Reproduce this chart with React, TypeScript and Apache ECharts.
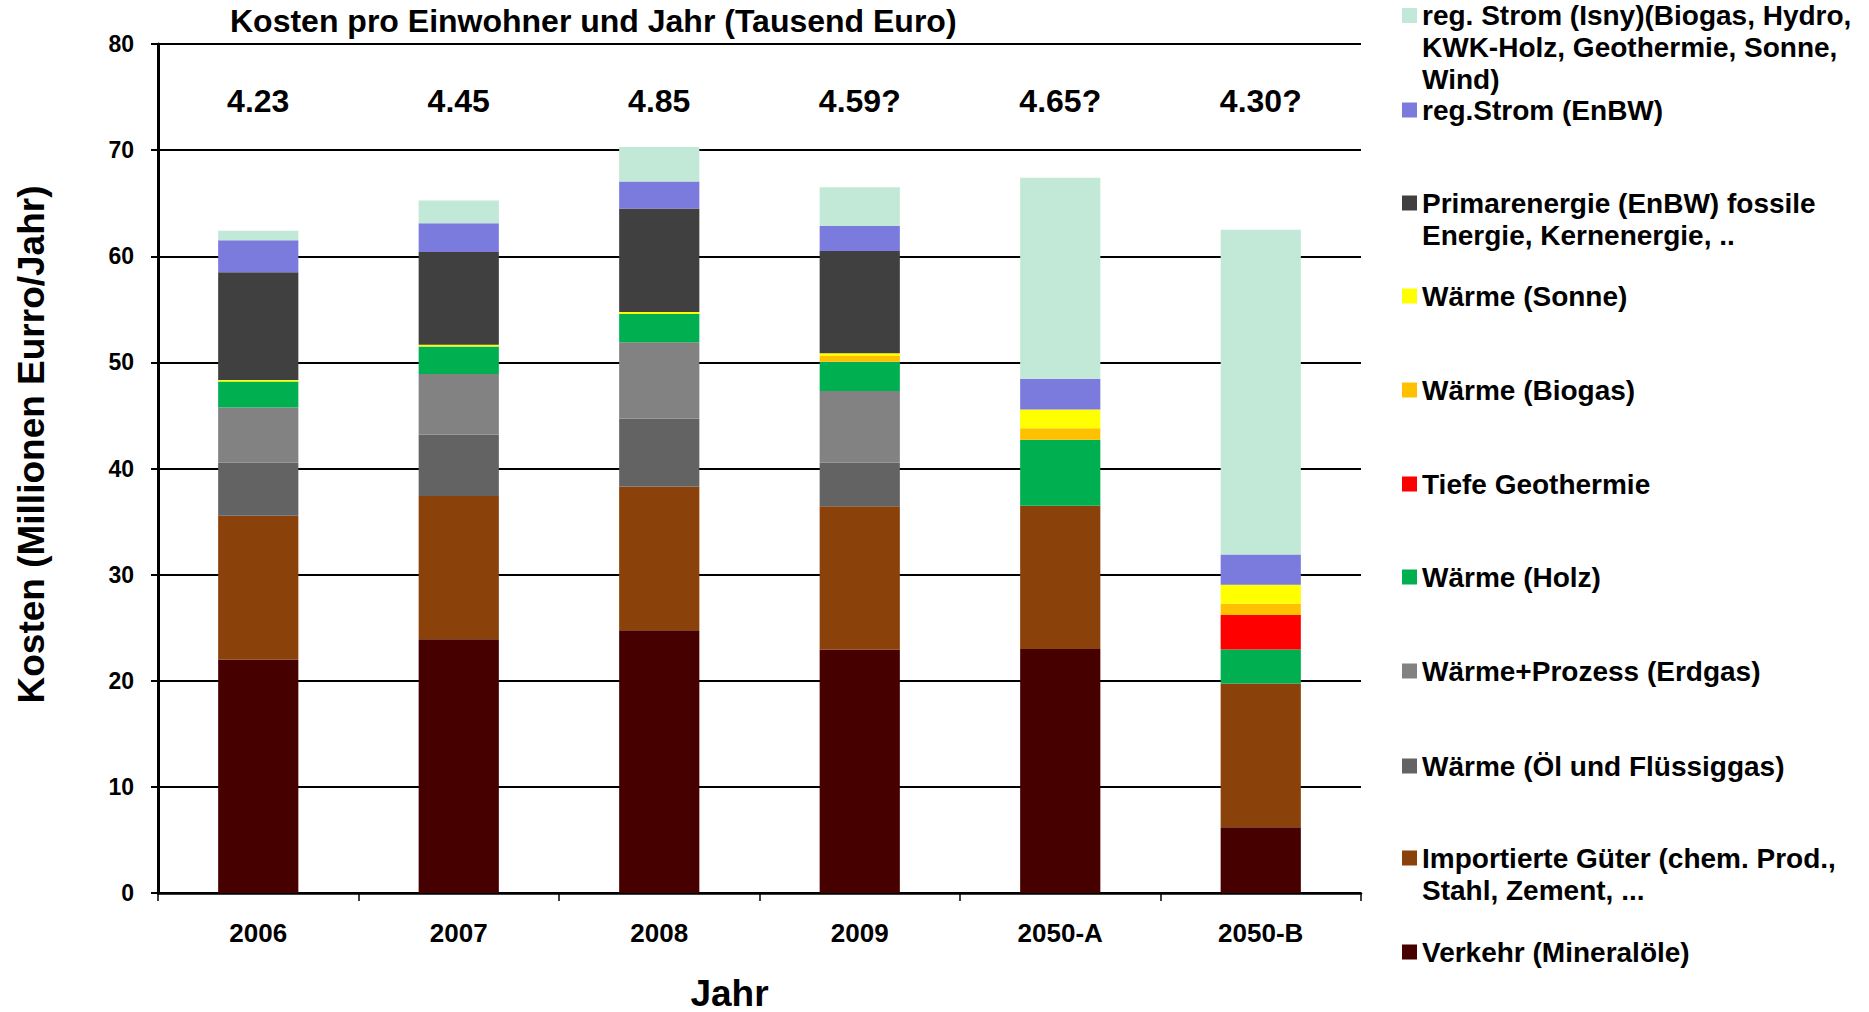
import React, { useEffect, useRef } from "react";
import * as echarts from "echarts";

const categories = ["2006", "2007", "2008", "2009", "2050-A", "2050-B"];
const perCapitaLabels = ["4.23", "4.45", "4.85", "4.59?", "4.65?", "4.30?"];
const perCapitaLabelLevel = 74.6;

const verkehr = [22.0, 23.9, 24.75, 22.95, 23.0, 6.2];
const importGueter = [13.55, 13.5, 13.55, 13.5, 13.5, 13.55];
const waermeOel = [5.0, 5.8, 6.4, 4.1, 0, 0];
const waermeErdgas = [5.2, 5.7, 7.2, 6.75, 0, 0];
const waermeHolz = [2.45, 2.6, 2.65, 2.75, 6.2, 3.2];
const tiefeGeothermie = [0, 0, 0, 0, 0, 3.25];
const waermeBiogas = [0, 0, 0, 0.55, 1.1, 1.05];
const waermeSonne = [0.15, 0.15, 0.2, 0.25, 1.75, 1.8];
const primarenergie = [10.15, 8.75, 9.75, 9.65, 0, 0];
const stromEnBW = [3.0, 2.7, 2.55, 2.35, 2.9, 2.85];
const stromIsny = [0.9, 2.15, 3.25, 3.65, 18.95, 30.6];

const yMin = 0;
const yMax = 80;
const yInterval = 10;

const FONT = "'Liberation Sans', Arial, Helvetica, sans-serif";

type Def = { name: string; lines: string[]; color: string; data: number[]; legendY: number };

// bottom-to-top stacking order
const defs: Def[] = [
  { name: "Verkehr (Mineralöle)", lines: ["Verkehr (Mineralöle)"], color: "#470000", data: verkehr, legendY: 952 },
  { name: "Importierte Güter (chem. Prod., Stahl, Zement, ...", lines: ["Importierte Güter (chem. Prod.,", "Stahl, Zement, ..."], color: "#8A410A", data: importGueter, legendY: 858 },
  { name: "Wärme (Öl und Flüssiggas)", lines: ["Wärme (Öl und Flüssiggas)"], color: "#636363", data: waermeOel, legendY: 766 },
  { name: "Wärme+Prozess (Erdgas)", lines: ["Wärme+Prozess (Erdgas)"], color: "#828282", data: waermeErdgas, legendY: 671 },
  { name: "Wärme (Holz)", lines: ["Wärme (Holz)"], color: "#00AF50", data: waermeHolz, legendY: 577 },
  { name: "Tiefe Geothermie", lines: ["Tiefe Geothermie"], color: "#FF0000", data: tiefeGeothermie, legendY: 484 },
  { name: "Wärme (Biogas)", lines: ["Wärme (Biogas)"], color: "#FFC000", data: waermeBiogas, legendY: 390 },
  { name: "Wärme (Sonne)", lines: ["Wärme (Sonne)"], color: "#FFFF00", data: waermeSonne, legendY: 296 },
  { name: "Primarenergie (EnBW) fossile Energie, Kernenergie, ..", lines: ["Primarenergie (EnBW) fossile", "Energie, Kernenergie, .."], color: "#404040", data: primarenergie, legendY: 203 },
  { name: "reg.Strom (EnBW)", lines: ["reg.Strom (EnBW)"], color: "#7B7BDD", data: stromEnBW, legendY: 110 },
  { name: "reg. Strom (Isny)(Biogas, Hydro, KWK-Holz, Geothermie, Sonne, Wind)", lines: ["reg. Strom (Isny)(Biogas, Hydro,", "KWK-Holz, Geothermie, Sonne,", "Wind)"], color: "#C2E8D7", data: stromIsny, legendY: 15.5 },
];

const LEGEND_LH = 32;

export default function App() {
  const ref = useRef<HTMLDivElement>(null);
  useEffect(() => {
    document.body.style.margin = "0";
    if (!ref.current) return;
    const chart = echarts.init(ref.current, undefined, { renderer: "svg" });

    const legends = defs.map((d) => {
      const n = d.lines.length;
      const blockH = Math.max((2 * n - 1) * LEGEND_LH, 15);
      return {
        data: [d.name],
        orient: "vertical",
        left: 1402,
        top: d.legendY - blockH / 2,
        padding: 0,
        itemWidth: 15,
        itemHeight: 15,
        itemGap: 0,
        icon: "rect",
        selectedMode: false,
        formatter: () => "\n".repeat(n - 1) + d.lines.join("\n"),
        textStyle: {
          fontSize: 28,
          fontWeight: "bold",
          color: "#000",
          fontFamily: FONT,
          lineHeight: LEGEND_LH,
        },
      };
    });

    const barSeries = defs.map((d) => ({
      name: d.name,
      type: "bar",
      stack: "total",
      barWidth: "40%",
      data: d.data,
      itemStyle: { color: d.color },
      emphasis: { disabled: true },
    }));

    const labelSeries = {
      name: "perCapita",
      type: "scatter",
      symbolSize: 0,
      itemStyle: { color: "#000", opacity: 1 },
      data: categories.map((c, i) => ({
        value: [c, perCapitaLabelLevel],
        label: { formatter: perCapitaLabels[i] },
      })),
      label: {
        show: true,
        position: "inside",
        fontSize: 32,
        fontWeight: "bold",
        color: "#000",
        opacity: 1,
        textBorderWidth: 0,
        fontFamily: FONT,
      },
      emphasis: { disabled: true },
      z: 5,
    };

    chart.setOption({
      animation: false,
      backgroundColor: "#fff",
      title: {
        text: "Kosten pro Einwohner und Jahr (Tausend Euro)",
        left: 230,
        top: 5,
        padding: 0,
        textStyle: { fontSize: 32, fontWeight: "bold", color: "#000", fontFamily: FONT },
      },
      legend: legends,
      grid: { left: 158, right: 508, top: 44, bottom: 119, containLabel: false, outerBoundsMode: "none" },
      xAxis: {
        type: "category",
        data: categories,
        name: "Jahr",
        nameLocation: "middle",
        nameGap: 83,
        nameTextStyle: { fontSize: 37, lineHeight: 34, fontWeight: "bold", color: "#000", fontFamily: FONT, padding: [0, 60, 0, 0] },
        axisLine: { show: true, lineStyle: { color: "#000", width: 2.5 } },
        axisTick: { show: true, alignWithLabel: false, length: 8, lineStyle: { color: "#000", width: 1.5 } },
        axisLabel: { fontSize: 26, fontWeight: "bold", color: "#000", fontFamily: FONT, margin: 27 },
        splitLine: { show: false },
      },
      yAxis: {
        type: "value",
        min: yMin,
        max: yMax,
        interval: yInterval,
        name: "Kosten (Millionen Eurro/Jahr)",
        nameLocation: "middle",
        nameGap: 108,
        nameRotate: 90,
        nameTextStyle: { fontSize: 37, fontWeight: "bold", color: "#000", fontFamily: FONT, padding: [0, 0, 0, 48] },
        axisLine: { show: true, lineStyle: { color: "#000", width: 3 } },
        axisTick: { show: true, inside: false, length: 7, lineStyle: { color: "#000", width: 2 } },
        axisLabel: { fontSize: 23, fontWeight: "bold", color: "#000", fontFamily: FONT, margin: 24 },
        splitLine: { show: true, lineStyle: { color: "#000", width: 2 } },
      },
      tooltip: { show: false },
      series: [...barSeries, labelSeries],
    });
    return () => chart.dispose();
  }, []);
  return <div ref={ref} style={{ width: 1869, height: 1012 }} />;
}
